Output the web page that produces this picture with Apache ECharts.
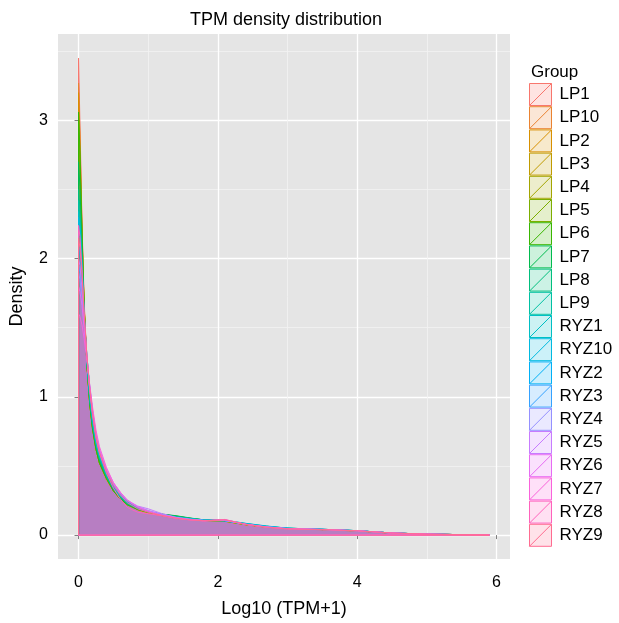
<!doctype html>
<html lang="en">
<head>
<meta charset="UTF-8">
<title>TPM density distribution</title>
<script src="https://cdn.jsdelivr.net/npm/echarts@6/dist/echarts.min.js"></script>
<style>
  html, body { margin: 0; padding: 0; width: 100%; height: 100%; background: #fff; }
  #main { width: 619px; height: 623px; }
</style>
</head>
<body>
<div id="main"></div>
<script>
// x positions (Log10(TPM+1)) where the density curves are read
var xs = [0, 0.02, 0.05, 0.08, 0.12, 0.16, 0.2, 0.25, 0.3, 0.4, 0.5, 0.6, 0.7, 0.85, 1.0, 1.2, 1.4, 1.6, 1.8, 2.1, 2.4, 2.7, 3.0, 3.5, 4.0, 4.5, 5.0, 5.9];

var groups = ['LP1', 'LP10', 'LP2', 'LP3', 'LP4', 'LP5', 'LP6', 'LP7', 'LP8', 'LP9',
  'RYZ1', 'RYZ10', 'RYZ2', 'RYZ3', 'RYZ4', 'RYZ5', 'RYZ6', 'RYZ7', 'RYZ8', 'RYZ9'];

var colors = ['#F8766D', '#EA8331', '#D89000', '#C09B00', '#A3A500', '#7CAE00', '#39B600', '#00BB4E', '#00BF7D', '#00C1A3',
  '#00BFC4', '#00BAE0', '#00B0F6', '#35A2FF', '#9590FF', '#C77CFF', '#E76BF3', '#FA62DB', '#FF62BC', '#FF6C91'];

var LP1 = [3.45, 2.98, 2.25, 1.7, 1.25, 0.96, 0.78, 0.63, 0.53, 0.41, 0.32, 0.26, 0.22, 0.185, 0.16, 0.14, 0.125, 0.115, 0.105, 0.1, 0.075, 0.057, 0.047, 0.04, 0.03, 0.014, 0.007, 0];
var LP10 = [3.27, 2.9, 2.22, 1.68, 1.24, 0.95, 0.77, 0.62, 0.52, 0.4, 0.32, 0.26, 0.22, 0.18, 0.16, 0.14, 0.13, 0.12, 0.105, 0.1, 0.076, 0.058, 0.047, 0.04, 0.03, 0.014, 0.007, 0];
var LP2 = [3.2, 2.85, 2.2, 1.66, 1.23, 0.95, 0.77, 0.62, 0.52, 0.41, 0.32, 0.26, 0.22, 0.185, 0.165, 0.145, 0.13, 0.118, 0.106, 0.1, 0.074, 0.057, 0.046, 0.039, 0.03, 0.014, 0.007, 0];
var LP3 = [2.95, 2.7, 2.15, 1.65, 1.24, 0.96, 0.78, 0.63, 0.53, 0.41, 0.33, 0.27, 0.22, 0.185, 0.16, 0.145, 0.13, 0.12, 0.108, 0.102, 0.077, 0.058, 0.048, 0.04, 0.031, 0.015, 0.007, 0];
var LP4 = [2.9, 2.66, 2.12, 1.64, 1.23, 0.96, 0.78, 0.63, 0.53, 0.41, 0.33, 0.27, 0.225, 0.19, 0.165, 0.148, 0.132, 0.12, 0.108, 0.1, 0.076, 0.058, 0.047, 0.04, 0.031, 0.015, 0.007, 0];
var LP5 = [3.0, 2.74, 2.16, 1.65, 1.23, 0.95, 0.77, 0.62, 0.52, 0.41, 0.32, 0.26, 0.22, 0.185, 0.165, 0.15, 0.135, 0.12, 0.108, 0.101, 0.076, 0.058, 0.047, 0.04, 0.031, 0.015, 0.007, 0];
var LP6 = [3.06, 2.78, 2.18, 1.66, 1.24, 0.95, 0.77, 0.62, 0.52, 0.41, 0.32, 0.26, 0.22, 0.185, 0.165, 0.15, 0.138, 0.122, 0.11, 0.103, 0.078, 0.06, 0.048, 0.041, 0.031, 0.015, 0.007, 0];
var LP7 = [2.7, 2.52, 2.08, 1.63, 1.24, 0.97, 0.79, 0.64, 0.54, 0.42, 0.33, 0.27, 0.225, 0.19, 0.168, 0.152, 0.14, 0.124, 0.11, 0.104, 0.079, 0.06, 0.048, 0.041, 0.032, 0.015, 0.007, 0];
var LP8 = [2.5, 2.36, 2.0, 1.6, 1.24, 0.98, 0.8, 0.65, 0.55, 0.42, 0.33, 0.27, 0.225, 0.19, 0.168, 0.15, 0.135, 0.122, 0.11, 0.104, 0.08, 0.062, 0.05, 0.042, 0.032, 0.015, 0.007, 0];
var LP9 = [2.42, 2.3, 1.97, 1.6, 1.25, 0.99, 0.81, 0.66, 0.56, 0.43, 0.34, 0.28, 0.23, 0.19, 0.168, 0.15, 0.132, 0.12, 0.11, 0.105, 0.082, 0.064, 0.05, 0.042, 0.032, 0.015, 0.007, 0];
var RYZ1 = [2.34, 2.24, 1.95, 1.6, 1.26, 1.0, 0.83, 0.67, 0.57, 0.44, 0.35, 0.28, 0.235, 0.195, 0.17, 0.15, 0.13, 0.118, 0.11, 0.108, 0.085, 0.066, 0.05, 0.042, 0.032, 0.015, 0.007, 0];
var RYZ10 = [2.3, 2.2, 1.93, 1.6, 1.28, 1.03, 0.85, 0.69, 0.58, 0.45, 0.35, 0.29, 0.24, 0.195, 0.17, 0.148, 0.128, 0.117, 0.108, 0.106, 0.084, 0.064, 0.05, 0.042, 0.032, 0.015, 0.007, 0];
var RYZ2 = [2.1, 2.03, 1.84, 1.58, 1.3, 1.06, 0.88, 0.71, 0.6, 0.46, 0.36, 0.29, 0.24, 0.195, 0.17, 0.147, 0.127, 0.115, 0.106, 0.104, 0.08, 0.061, 0.049, 0.041, 0.031, 0.015, 0.007, 0];
var RYZ3 = [1.95, 1.9, 1.76, 1.55, 1.3, 1.08, 0.9, 0.73, 0.61, 0.47, 0.37, 0.3, 0.245, 0.2, 0.172, 0.147, 0.126, 0.114, 0.105, 0.103, 0.078, 0.06, 0.048, 0.04, 0.031, 0.015, 0.007, 0];
var RYZ4 = [1.9, 1.85, 1.72, 1.52, 1.28, 1.07, 0.9, 0.73, 0.61, 0.47, 0.37, 0.3, 0.25, 0.205, 0.178, 0.15, 0.128, 0.115, 0.106, 0.105, 0.077, 0.059, 0.047, 0.04, 0.031, 0.015, 0.007, 0];
var RYZ5 = [2.0, 1.95, 1.78, 1.55, 1.29, 1.06, 0.89, 0.72, 0.61, 0.47, 0.37, 0.3, 0.25, 0.21, 0.19, 0.155, 0.128, 0.114, 0.106, 0.108, 0.078, 0.059, 0.047, 0.042, 0.032, 0.015, 0.007, 0];
var RYZ6 = [1.8, 1.76, 1.66, 1.5, 1.28, 1.08, 0.91, 0.74, 0.62, 0.48, 0.38, 0.31, 0.255, 0.205, 0.175, 0.145, 0.124, 0.112, 0.104, 0.11, 0.077, 0.058, 0.046, 0.04, 0.031, 0.015, 0.007, 0];
var RYZ7 = [1.6, 1.58, 1.52, 1.42, 1.26, 1.09, 0.93, 0.76, 0.64, 0.49, 0.38, 0.31, 0.25, 0.2, 0.17, 0.142, 0.122, 0.11, 0.103, 0.112, 0.078, 0.057, 0.045, 0.04, 0.031, 0.015, 0.007, 0];
var RYZ8 = [2.24, 2.16, 1.92, 1.62, 1.3, 1.05, 0.87, 0.7, 0.59, 0.45, 0.34, 0.26, 0.2, 0.165, 0.155, 0.14, 0.122, 0.11, 0.103, 0.113, 0.078, 0.057, 0.045, 0.039, 0.03, 0.014, 0.007, 0];
var RYZ9 = [2.15, 2.08, 1.88, 1.6, 1.3, 1.06, 0.88, 0.71, 0.6, 0.46, 0.36, 0.29, 0.235, 0.19, 0.165, 0.142, 0.122, 0.11, 0.103, 0.11, 0.078, 0.057, 0.045, 0.04, 0.031, 0.015, 0.007, 0];

var densities = [LP1, LP10, LP2, LP3, LP4, LP5, LP6, LP7, LP8, LP9, RYZ1, RYZ10, RYZ2, RYZ3, RYZ4, RYZ5, RYZ6, RYZ7, RYZ8, RYZ9];

var xMajor = [0, 2, 4, 6];
var xMinor = [1, 3, 5];
var yMajor = [0, 1, 2, 3];
var yMinor = [0.5, 1.5, 2.5, 3.5];

var font = 'Liberation Sans, Arial, Helvetica, sans-serif';

function hexA(hex, a) {
  var n = parseInt(hex.slice(1), 16);
  return 'rgba(' + (n >> 16) + ',' + ((n >> 8) & 255) + ',' + (n & 255) + ',' + a + ')';
}

var myChart = echarts.init(document.getElementById('main'), null, { renderer: 'canvas' });

var series = groups.map(function (g, k) {
  // closed outline: up the left edge, along the curve, back along the baseline
  var pts = [[0, 0]];
  xs.forEach(function (x, i) { pts.push([x, densities[k][i]]); });
  pts.push([0, 0]);
  return {
    name: g,
    type: 'line',
    data: pts,
    showSymbol: false,
    symbol: 'none',
    smooth: false,
    lineStyle: { color: colors[k], width: 1 },
    areaStyle: { color: hexA(colors[k], 0.2), opacity: 1, origin: 0 },
    itemStyle: { color: colors[k] },
    emphasis: { disabled: true },
    animation: false
  };
});

var keyIcon = 'path://M0,0L20,0L20,20L0,20Z M0,20L20,0';

option = {
  backgroundColor: '#fff',
  animation: false,
  title: [
    { text: 'TPM density distribution', left: 185, top: 6,
      textStyle: { fontFamily: font, fontSize: 18, fontWeight: 'normal', color: '#000' } },
    { text: 'Group', left: 526, top: 59,
      textStyle: { fontFamily: font, fontSize: 17, fontWeight: 'normal', color: '#000' } }
  ],
  legend: {
    orient: 'vertical',
    left: 529,
    top: 83,
    itemWidth: 22,
    itemHeight: 22,
    itemGap: 0.2,
    padding: 0,
    selectedMode: false,
    textStyle: { fontFamily: font, fontSize: 17, color: '#000', padding: [0, 0, 0, 3] },
    data: groups.map(function (g, k) {
      return {
        name: g,
        icon: keyIcon,
        itemStyle: { color: hexA(colors[k], 0.2), borderColor: colors[k], borderWidth: 1 }
      };
    })
  },
  grid: {
    left: 58, right: 109, top: 34, bottom: 61,
    show: true, backgroundColor: '#E5E5E5', borderWidth: 0
  },
  xAxis: [
    {
      type: 'value', min: -0.295, max: 6.195,
      name: 'Log10 (TPM+1)', nameLocation: 'middle', nameGap: 41,
      nameTextStyle: { fontFamily: font, fontSize: 18, color: '#000' },
      axisLine: { show: false },
      axisTick: { show: true, customValues: xMajor, length: 4, lineStyle: { color: '#7F7F7F', width: 1 } },
      axisLabel: { customValues: xMajor, margin: 16, fontFamily: font, fontSize: 16, color: '#000' },
      splitLine: { show: true, lineStyle: { color: '#FFFFFF', width: 1.3 } }
    },
    {
      type: 'value', min: -0.295, max: 6.195, position: 'top',
      axisLine: { show: false },
      axisTick: { show: false, customValues: xMinor },
      axisLabel: { show: false, customValues: xMinor },
      splitLine: { show: true, lineStyle: { color: '#F2F2F2', width: 0.8 } }
    }
  ],
  yAxis: [
    {
      type: 'value', min: -0.173, max: 3.625,
      name: 'Density', nameLocation: 'middle', nameGap: 32, nameRotate: 90,
      nameTextStyle: { fontFamily: font, fontSize: 18, color: '#000' },
      axisLine: { show: false },
      axisTick: { show: true, customValues: yMajor, length: 4, lineStyle: { color: '#7F7F7F', width: 1 } },
      axisLabel: { customValues: yMajor, margin: 10, fontFamily: font, fontSize: 16, color: '#000' },
      splitLine: { show: true, lineStyle: { color: '#FFFFFF', width: 1.3 } }
    },
    {
      type: 'value', min: -0.173, max: 3.625, position: 'right',
      axisLine: { show: false },
      axisTick: { show: false, customValues: yMinor },
      axisLabel: { show: false, customValues: yMinor },
      splitLine: { show: true, lineStyle: { color: '#F2F2F2', width: 0.8 } }
    }
  ],
  series: series
};

myChart.setOption(option);
window.onresize = () => myChart.resize();
</script>
</body>
</html>
